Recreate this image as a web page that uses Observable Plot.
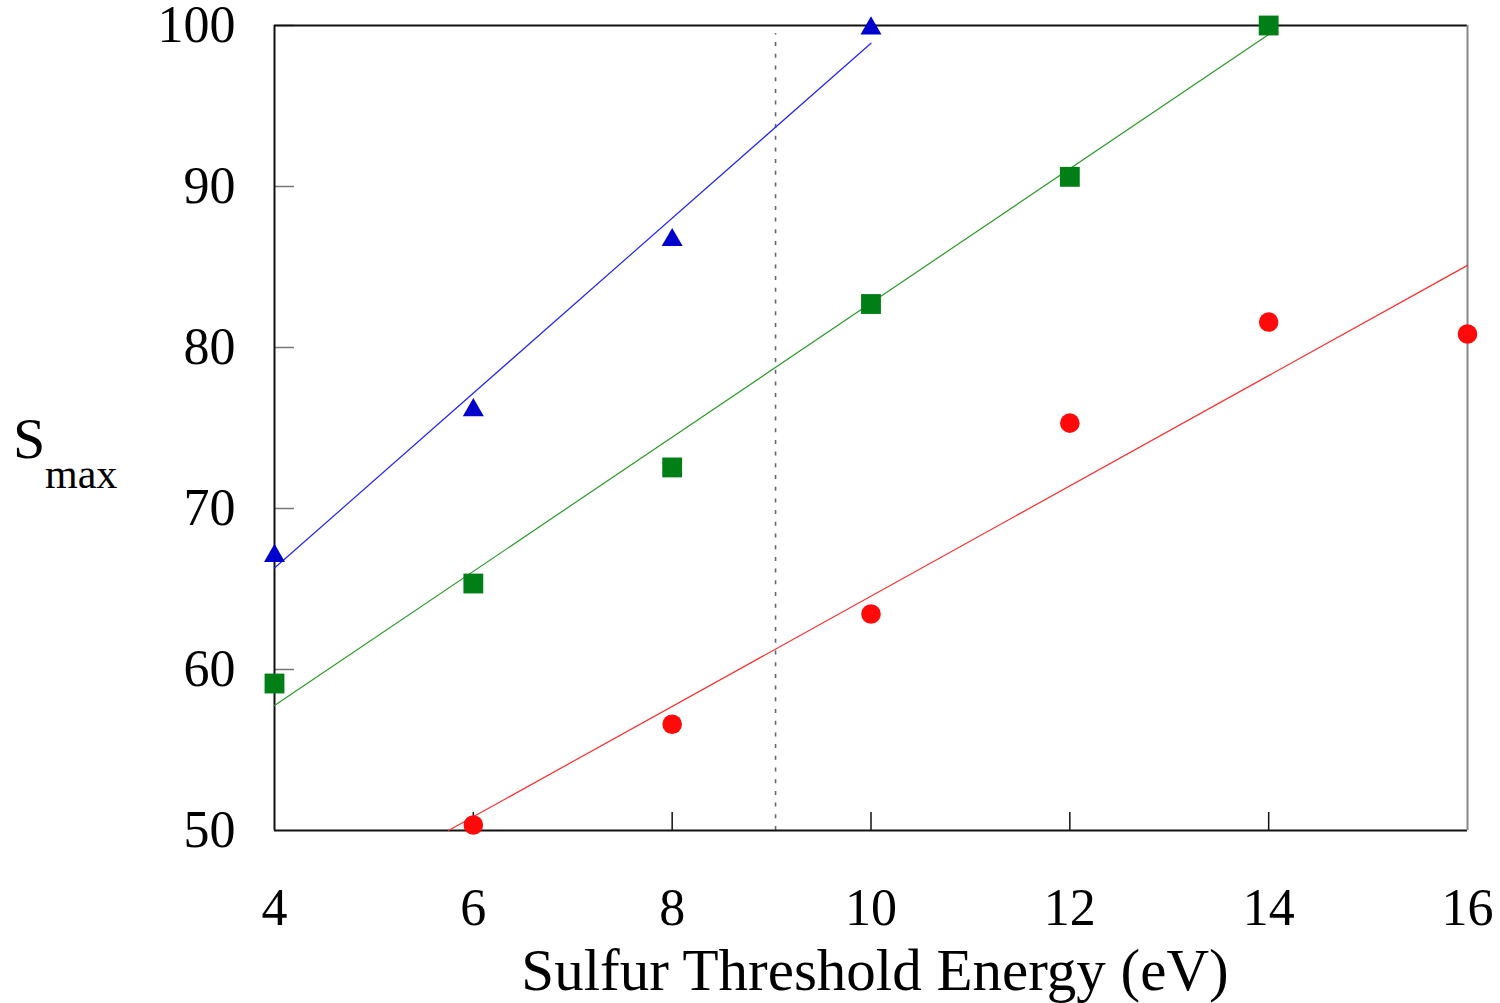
<!DOCTYPE html>
<html><head><meta charset="utf-8">
<script src="https://cdn.jsdelivr.net/npm/d3@7"></script>
<script src="https://cdn.jsdelivr.net/npm/@observablehq/plot@0.6"></script>
<style>body{margin:0;background:#fff} svg{display:block}</style>
</head><body><div id="chart"></div>
<script>
// Data
const triX = [4, 6, 8, 10];
const triY = [67.24, 76.3, 86.86, 100];
const sqX = [4, 6, 8, 10, 12, 14];
const sqY = [59.13, 65.34, 72.55, 82.7, 90.6, 100];
const cirX = [6, 8, 10, 12, 14, 16];
const cirY = [50.34, 56.6, 63.45, 75.3, 81.58, 80.84];
// fitted lines (endpoints)
const blueFitX = [4, 10], blueFitY = [66.3, 98.9];
const greenFitX = [4, 14], greenFitY = [57.76, 99.44];
const redFitX = [5.75, 16], redFitY = [50, 85.1];
// reference dotted line
const refX = [9.04], refY = [50, 99.5];
const xTicks = [4, 6, 8, 10, 12, 14, 16];
const xInnerTicks = [6, 8, 10, 12, 14];
const yTicks = [50, 60, 70, 80, 90, 100];
const yInnerTicks = [60, 70, 80, 90, 100];
const xLabel = "Sulfur Threshold Energy (eV)";
const yLabelMain = "S", yLabelSub = "max";

const W = 1500, H = 1003, mL = 274, mR = 33, mT = 25, mB = 173;
const plotW = W - mL - mR, plotH = H - mT - mB;
const zip = (xs, ys) => xs.map((x, i) => ({x, y: ys[i]}));
const font = "'Liberation Serif', 'Times New Roman', serif";

const chart = Plot.plot({
  width: W, height: H,
  marginLeft: mL, marginRight: mR, marginTop: mT, marginBottom: mB,
  style: {fontFamily: font, fontSize: "52px", color: "#000", background: "#fff", overflow: "visible"},
  x: {domain: [4, 16], ticks: xTicks, tickSize: 0, tickPadding: 58, label: null},
  y: {domain: [50, 100], ticks: yTicks, tickSize: 0, tickPadding: 39, label: null},
  marks: [
    Plot.tickY(yInnerTicks, {y: d => d, stroke: "#777", strokeWidth: 1.5, insetRight: plotW - 20}),
    Plot.tickX(xInnerTicks, {x: d => d, stroke: "#111", strokeWidth: 1.5, insetTop: plotH - 18}),
    Plot.ruleX(refX, {x: d => d, y1: refY[0], y2: refY[1], stroke: "#666", strokeWidth: 1.6, strokeDasharray: "4,7.7"}),
    Plot.ruleY([50, 100], {y: d => d, stroke: "#111", strokeWidth: 2}),
    Plot.ruleX([4], {x: d => d, stroke: "#111", strokeWidth: 2}),
    Plot.ruleX([16], {x: d => d, stroke: "#888", strokeWidth: 2}),
    Plot.line(zip(blueFitX, blueFitY), {x: "x", y: "y", stroke: "#2222ff", strokeWidth: 1.2}),
    Plot.line(zip(greenFitX, greenFitY), {x: "x", y: "y", stroke: "#2a9a2a", strokeWidth: 1.2}),
    Plot.line(zip(redFitX, redFitY), {x: "x", y: "y", stroke: "#ff2a2a", strokeWidth: 1.2}),
    Plot.dot(zip(triX, triY), {x: "x", y: "y", symbol: "triangle", r: 7.8, fill: "#0000cc", stroke: "none", dy: 3}),
    Plot.dot(zip(sqX, sqY), {x: "x", y: "y", symbol: "square", r: 11.2, fill: "#007f16", stroke: "none"}),
    Plot.dot(zip(cirX, cirY), {x: "x", y: "y", symbol: "circle", r: 9.8, fill: "#ff0a0a", stroke: "none"})
  ]
});

const svg = d3.select(chart);
svg.append("text").attr("x", 875).attr("y", 990).attr("text-anchor", "middle")
  .attr("font-family", font).attr("font-size", 59).attr("fill", "#000").text(xLabel);
svg.append("text").attr("x", 13).attr("y", 458).attr("text-anchor", "start")
  .attr("font-family", font).attr("font-size", 58).attr("fill", "#000").text(yLabelMain);
svg.append("text").attr("x", 45).attr("y", 488).attr("text-anchor", "start")
  .attr("font-family", font).attr("font-size", 42).attr("fill", "#000").text(yLabelSub);

document.getElementById("chart").appendChild(chart);
</script>
</body></html>
